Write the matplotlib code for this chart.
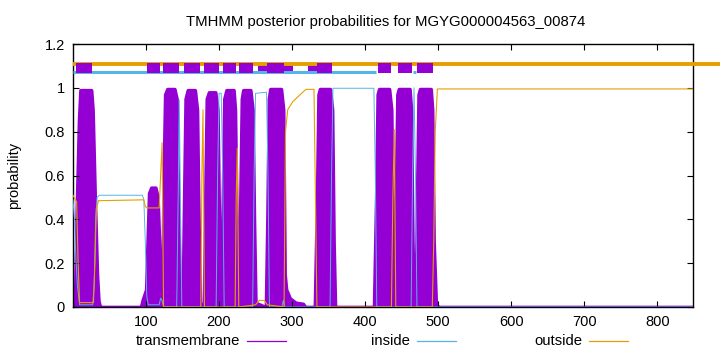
import matplotlib
matplotlib.use('Agg')
import matplotlib.pyplot as plt
from matplotlib.lines import Line2D

plt.rcParams['font.family'] = ['Liberation Sans', 'DejaVu Sans']

title = "TMHMM posterior probabilities for MGYG000004563_00874"
seq_len = 849

# posterior probabilities (breakpoints)
tm_x = [0, 1, 3, 5, 8, 10, 25, 27, 30, 33, 35, 37,
        93, 95, 100, 102, 104, 107, 113, 116, 118, 120, 121,
        122, 124, 126, 129, 139, 142, 144, 146, 147,
        150, 152, 154, 157, 167, 170, 172, 174,
        179, 181, 183, 186, 195, 198, 200, 202,
        203, 205, 207, 210, 220, 222, 224, 226,
        227, 229, 231, 233, 243, 246, 248, 250,
        264, 266, 268, 270, 285, 288, 290, 292, 297, 305, 315, 318,
        331, 334, 336, 338, 352, 355, 357, 359,
        412, 415, 417, 419, 433, 436, 438, 440,
        442, 444, 446, 461, 463, 465, 467,
        469, 471, 473, 475, 490, 492, 494, 497, 500, 849]
tm_y = [0, 0, 0.1, 0.45, 0.85, 0.99, 0.99, 0.9, 0.5, 0.15, 0.03, 0,
        0, 0.03, 0.08, 0.3, 0.52, 0.545, 0.545, 0.5, 0.3, 0.05, 0.01,
        0.02, 0.6, 0.97, 0.995, 0.995, 0.95, 0.5, 0.05, 0,
        0, 0.5, 0.95, 0.99, 0.99, 0.9, 0.4, 0.02,
        0, 0.5, 0.95, 0.98, 0.98, 0.9, 0.4, 0.02,
        0, 0.5, 0.95, 0.99, 0.99, 0.9, 0.4, 0.02,
        0, 0.5, 0.95, 0.99, 0.99, 0.9, 0.4, 0.02,
        0, 0.4, 0.95, 0.995, 0.995, 0.9, 0.15, 0.08, 0.04, 0.02, 0.015, 0,
        0, 0.5, 0.97, 0.995, 0.995, 0.9, 0.3, 0,
        0, 0.5, 0.97, 0.995, 0.995, 0.9, 0.3, 0.02,
        0.5, 0.97, 0.995, 0.995, 0.9, 0.3, 0,
        0, 0.5, 0.97, 0.995, 0.995, 0.9, 0.3, 0.02, 0, 0]

in_x = [0, 2, 4, 6, 9, 27, 29, 31, 33, 36, 95, 97, 99, 101, 103,
        118, 120, 122, 124, 142, 144, 145.5, 147, 149,
        196, 198, 200, 203, 205, 207,
        246, 248, 250, 265, 267, 269, 286, 288, 290,
        352, 354, 356, 412, 414, 416,
        463, 465, 467, 469, 471, 849]
in_y = [0.49, 0.4, 0.22, 0.1, 0.01, 0.01, 0.1, 0.4, 0.5, 0.51, 0.51, 0.49, 0.3, 0.05, 0.01,
        0.01, 0.04, 0.03, 0, 0, 0.5, 0.945, 0.5, 0,
        0, 0.6, 0.975, 0.975, 0.6, 0,
        0, 0.6, 0.975, 0.98, 0.6, 0, 0, 0.03, 0,
        0, 0.6, 0.998, 0.998, 0.6, 0,
        0, 0.6, 1.0, 0.6, 0, 0]

out_x = [0, 3, 5, 7, 9, 28, 30, 32, 35, 97, 99, 101, 118, 120, 122, 124,
         175, 176.5, 178, 180, 222, 223.5, 225, 227,
         250, 255, 262, 266,
         289, 291, 294, 301, 314, 319, 330, 332, 334,
         436, 438, 440, 442, 492, 494, 496, 499, 849]
out_y = [0.51, 0.49, 0.48, 0.2, 0.02, 0.02, 0.2, 0.45, 0.485, 0.489, 0.46, 0.452, 0.452, 0.6, 0.75, 0,
         0, 0.6, 0.9, 0, 0, 0.5, 0.725, 0,
         0.01, 0.03, 0.03, 0.01,
         0, 0.8, 0.9, 0.937, 0.978, 0.993, 0.993, 0.5, 0,
         0, 0.5, 0.81, 0, 0, 0.3, 0.8, 0.995, 0.995]

# predicted topology (top track)
tm_segments = [(4.5, 26), (101, 119), (123, 145), (152, 174), (180, 200), (206, 223),
               (227, 246), (266, 289), (334, 355), (418, 436), (445, 464), (471, 493)]
tm_segments_low = [(253, 301), (322, 334)]
inside_segments = [(0, 415), (465, 470)]

labels = ['transmembrane', 'inside', 'outside']
colors = ['#9400d3', '#56b4e9', '#e69f00']

fig = plt.figure(figsize=(7.2, 3.52), dpi=100)
ax = fig.add_axes([73 / 720, 45 / 352, 620 / 720, 263 / 352])

# thick edge mimics gnuplot's wide impulses
ax.fill_between(tm_x, tm_y, color=colors[0], lw=2.4, edgecolor=colors[0], joinstyle='round')
# lines sit over the bottom border like in gnuplot
ax.plot(in_x, in_y, color=colors[1], lw=0.7, zorder=2.6)
ax.plot(out_x, out_y, color=colors[2], lw=0.8, zorder=2.7)

# top track
for a, b in tm_segments_low:
    ax.fill_between([a, b], 1.066, 1.105, color=colors[0], lw=0, zorder=3)
for a, b in inside_segments:
    ax.plot([a, b], [1.07, 1.07], color=colors[1], lw=2.2, solid_capstyle='butt', zorder=3)
ax.plot([0, 1.05], [1.11, 1.11], color=colors[2], lw=2.8, solid_capstyle='butt',
        transform=ax.get_yaxis_transform(), clip_on=False, zorder=4)
for a, b in tm_segments:
    ax.fill_between([a, b], 1.066, 1.115, color=colors[0], lw=0, zorder=5)

ax.set_xlim(0, seq_len)
ax.set_ylim(0, 1.2)
ax.set_xticks([100, 200, 300, 400, 500, 600, 700, 800])
ax.set_yticks([0, 0.2, 0.4, 0.6, 0.8, 1.0, 1.2])
ax.set_yticklabels(['0', '0.2', '0.4', '0.6', '0.8', '1', '1.2'])
ax.tick_params(direction='in', top=True, right=True, length=4, width=0.8,
               labelsize=10.5, pad=6)
for s in ax.spines.values():
    s.set_linewidth(1.0)

ax.set_ylabel('probability', fontsize=10.5)
ax.yaxis.set_label_coords(-52 / 620, 0.5)
fig.text(386 / 720, 1 - 22 / 352, title, ha='center', va='center', fontsize=10.7)

# legend in gnuplot style: text then sample line
text_right = [240, 410, 582]
for lab, col, xr in zip(labels, colors, text_right):
    fig.text(xr / 720, 1 - 341 / 352, lab, ha='right', va='center', fontsize=10.7)
    fig.add_artist(Line2D([(xr + 7) / 720, (xr + 46) / 720], [1 - 341 / 352] * 2,
                          color=col, lw=0.9))

fig.savefig('out.png', dpi=100)
